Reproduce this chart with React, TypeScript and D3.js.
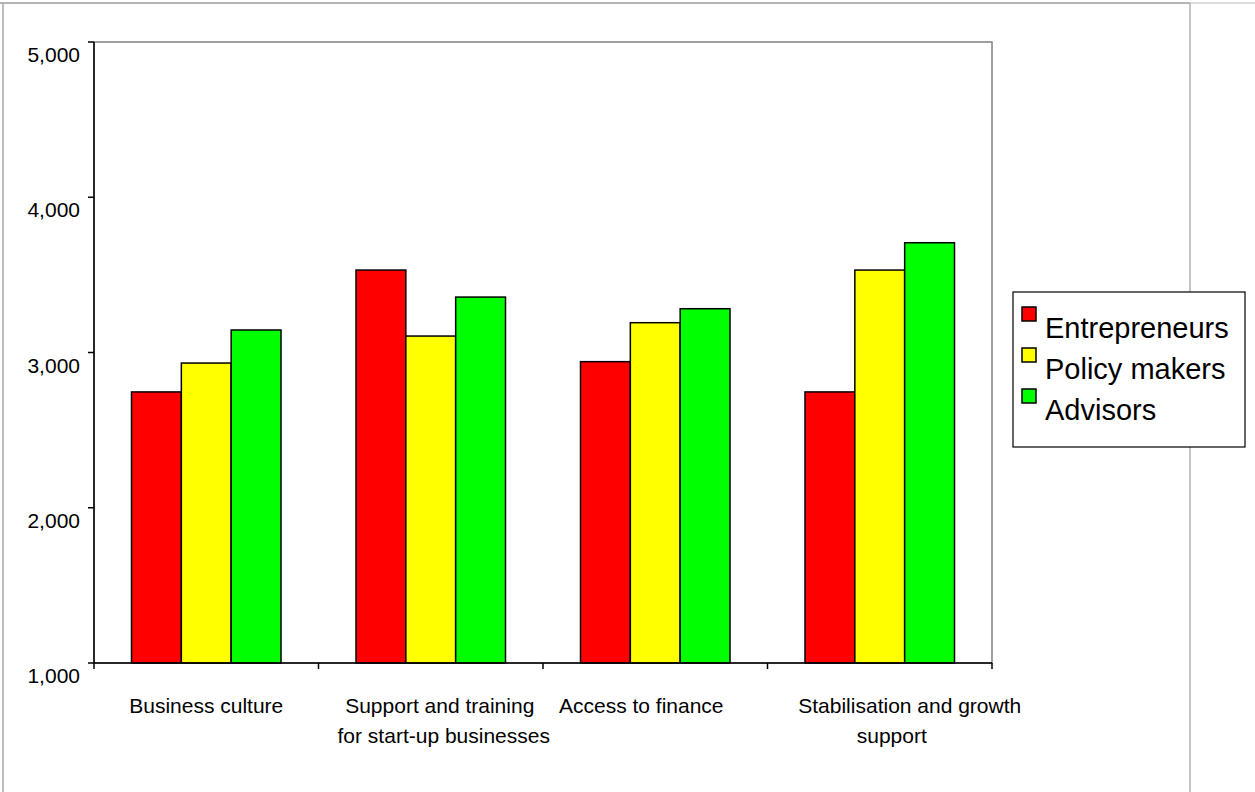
import React from "react";
import * as d3 from "d3";

const categories: string[][] = [
  ["Business culture"],
  ["Support and training", "for start-up businesses"],
  ["Access to finance"],
  ["Stabilisation and growth", "support"],
];
const seriesNames = ["Entrepreneurs", "Policy makers", "Advisors"];
const seriesColors = ["#FF0000", "#FFFF00", "#00FF00"];
const entrepreneurs = [2746, 3531, 2941, 2746];
const policyMakers = [2932, 3106, 3192, 3531];
const advisors = [3145, 3357, 3282, 3707];
const yTicks = [1000, 2000, 3000, 4000, 5000];

const seriesValues = [entrepreneurs, policyMakers, advisors];

// label line shifts relative to category centre (Excel label placement)
const labelShift = [[0], [9, 13], [-14], [30, 12]];

const FONT = "'Liberation Sans', Arial, Helvetica, sans-serif";

export default function App() {
  const W = 1255;
  const H = 792;
  const plot = { left: 94, right: 992, top: 42, bottom: 663 };
  const catKeys = categories.map((c) => c.join(" "));
  const x0 = d3.scaleBand<string>().domain(catKeys).range([plot.left, plot.right]).padding(0);
  const bw = x0.bandwidth();
  const gap = 37.5;
  const x1 = d3.scaleBand<string>().domain(seriesNames).range([gap, bw - gap]).padding(0);
  const y = d3.scaleLinear().domain([1000, 5000]).range([plot.bottom, plot.top]);
  const fmt = d3.format(",");

  const catBoundaries = [...catKeys.map((k) => x0(k)!), plot.right];

  return (
    <svg
      width={W}
      height={H}
      style={{ position: "absolute", left: 0, top: 0, background: "#fff" }}
      fontFamily={FONT}
    >
      {/* outer frame */}
      <line x1={0} x2={W} y1={3} y2={3} stroke="#d0d0d0" strokeWidth={1.5} />
      <line x1={0} x2={1190} y1={3} y2={3} stroke="#a8a8a8" strokeWidth={1.5} />
      <line x1={3} x2={3} y1={3} y2={H} stroke="#a8a8a8" strokeWidth={1.5} />
      <line x1={1190} x2={1190} y1={3} y2={H} stroke="#b0b0b0" strokeWidth={1.5} />

      {/* plot area border */}
      <rect
        x={plot.left}
        y={plot.top}
        width={plot.right - plot.left}
        height={plot.bottom - plot.top}
        fill="none"
        stroke="#808080"
        strokeWidth={1.5}
      />

      {/* bars */}
      {seriesValues.map((vals, si) =>
        vals.map((v, ci) => {
          const bx = x0(catKeys[ci])! + x1(seriesNames[si])!;
          return (
            <rect
              key={`${si}-${ci}`}
              x={bx}
              y={y(v)}
              width={x1.bandwidth()}
              height={y(1000) - y(v)}
              fill={seriesColors[si]}
              stroke="#000"
              strokeWidth={1.5}
            />
          );
        })
      )}

      {/* axes */}
      <line x1={plot.left} x2={plot.left} y1={plot.top} y2={plot.bottom} stroke="#000" strokeWidth={1.5} />
      <line x1={plot.left} x2={plot.right} y1={plot.bottom} y2={plot.bottom} stroke="#000" strokeWidth={1.5} />
      {yTicks.map((t) => (
        <g key={t}>
          <line x1={plot.left - 6} x2={plot.left} y1={y(t)} y2={y(t)} stroke="#000" strokeWidth={1.5} />
          <text x={80} y={y(t) + 20} textAnchor="end" fontSize={21} fill="#000">
            {fmt(t)}
          </text>
        </g>
      ))}
      {catBoundaries.map((bx, i) => (
        <line key={i} x1={bx} x2={bx} y1={plot.bottom} y2={plot.bottom + 6} stroke="#000" strokeWidth={1.5} />
      ))}
      {categories.map((lines, ci) => {
        const cx = x0(catKeys[ci])! + bw / 2;
        return lines.map((ln, li) => (
          <text
            key={`${ci}-${li}`}
            x={cx + labelShift[ci][li]}
            y={713 + li * 30}
            textAnchor="middle"
            fontSize={21}
            fill="#000"
          >
            {ln}
          </text>
        ));
      })}

      {/* legend */}
      <rect x={1013} y={292} width={232} height={155} fill="#fff" stroke="#000" strokeWidth={1.2} />
      {seriesNames.map((s, i) => (
        <g key={s}>
          <rect x={1022} y={307 + i * 41} width={14} height={14} fill={seriesColors[i]} stroke="#000" strokeWidth={1.5} />
          <text x={1045} y={337.5 + i * 41} fontSize={29} fill="#000">
            {s}
          </text>
        </g>
      ))}
    </svg>
  );
}
